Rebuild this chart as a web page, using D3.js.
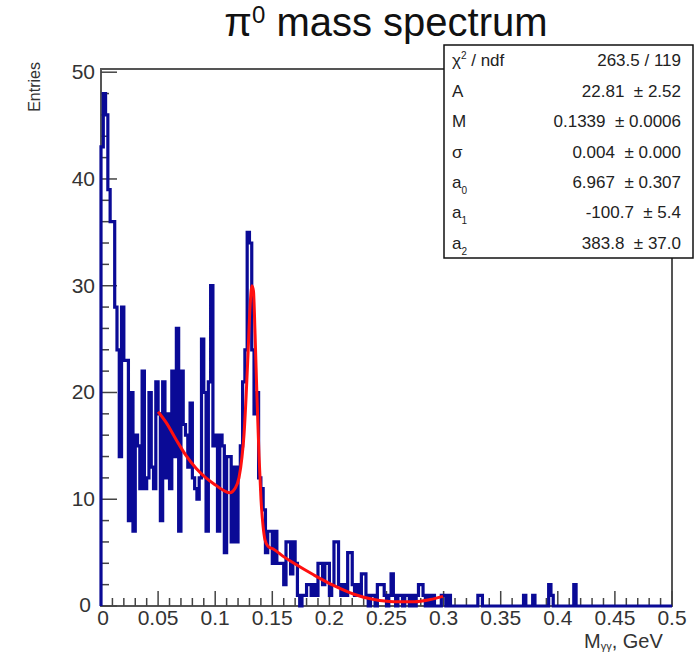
<!DOCTYPE html>
<html><head><meta charset="utf-8">
<script src="https://cdn.jsdelivr.net/npm/d3@7"></script>
<style>
html,body{margin:0;padding:0;background:#fff;}
svg{display:block;font-family:"Liberation Sans",Arial,Helvetica,sans-serif;}
</style></head>
<body>
<svg id="chart" width="696" height="654"></svg>
<script>
// ---------- data ----------
const binWidth = 0.002;
const binCounts = [
 43,48,46,39,36,36,28,24,14,28, 23,23,8,20,7,16,15,11,22,11,
 12,20,13,11,21,18,8,21,12,18, 11,22,14,26,7,22,17,16,13,19,
 12,11,10,12,25,20,7,21,30,15, 16,7,16,15,5,14,14,6,13,6,
 13,15,21,24,35,34,24,18,20,12, 11,9,5,7,7,4,7,4,4,4,
 2,6,6,3,6,4,1,0,1,1, 2,2,1,2,1,4,4,2,4,4,
 1,2,6,6,2,1,2,1,5,5, 2,1,2,1,3,3,1,0,1,1,
 0,2,2,2,1,0,1,3,1,0, 1,1,0,1,1,0,1,0,1,2,
 2,1,0,1,0,1,0,0,0,1, 1,0,1,0,0,0,0,0,0,0,
 0,0,0,0,0,1,1,0,0,0, 0,0,0,0,0,0,0,0,0,0,
 0,0,0,0,0,1,0,0,0,1, 0,0,0,0,0,0,2,1,0,0,
 0,0,0,0,0,0,0,2,0,0, 0,0,0,0,0,0,0,0,0,0,
 0,0,0,0,0,0,0,0,0,0, 0,0,0,0,0,0,0,0,0,0,
 0,0,0,0,0,0,0,0,0,0
];
// fit curve
const fitX = [0.050,0.057,0.0657,0.0744,0.0832,0.0919,0.1007,0.1077,0.113,0.1173,0.1208,0.1235,0.1252,0.127,0.1287,0.1305,0.1322,0.1335,0.1349,0.1366,0.1384,0.1401,0.1419,0.1436,0.1462,0.1515,0.1602,0.169,0.1865,0.204,0.2215,0.239,0.2566,0.2741,0.2881,0.2995];
const fitY = [18.2,17.2,15.6,14.1,12.9,12.0,11.3,10.8,10.6,11.0,12.0,14.0,16.0,19.5,23.5,28.0,30.0,29.5,25.5,19.5,14.0,10.0,7.5,6.2,5.6,5.3,4.6,4.0,2.9,1.9,1.1,0.6,0.4,0.4,0.6,0.9];
const xTickValues = [0,0.05,0.1,0.15,0.2,0.25,0.3,0.35,0.4,0.45,0.5];
const xTickLabels = ["0","0.05","0.1","0.15","0.2","0.25","0.3","0.35","0.4","0.45","0.5"];
const yTickValues = [0,10,20,30,40,50];
const yTickLabels = ["0","10","20","30","40","50"];
const statNames = ["χ2 / ndf","A","M","σ","a0","a1","a2"];
const statValues = ["263.5 / 119","22.81\u00a0\u00a0± 2.52","0.1339\u00a0\u00a0± 0.0006","0.004\u00a0\u00a0± 0.000","6.967\u00a0\u00a0± 0.307","-100.7\u00a0\u00a0± 5.4","383.8\u00a0\u00a0± 37.0"];

// ---------- layout ----------
const svg = d3.select("#chart");
const L = 101, R = 672, T = 69, B = 606;
const x = d3.scaleLinear().domain([0,0.5]).range([L,R]);
const y = d3.scaleLinear().domain([0,50.3]).range([B,T]);
const axisCol = "#444";

// frame
svg.append("rect").attr("x",L).attr("y",T).attr("width",R-L).attr("height",B-T)
  .attr("fill","none").attr("stroke","#555").attr("stroke-width",2);

// ticks (inward, ROOT style)
const g = svg.append("g");
const xMinor = d3.range(0,51).map(i=>i*0.01);
g.selectAll(".xt").data(xMinor).join("line")
  .attr("x1",d=>x(d)).attr("x2",d=>x(d)).attr("y1",B)
  .attr("y2",(d,i)=> i%5===0 ? B-15 : B-8)
  .attr("stroke",axisCol).attr("stroke-width",1.5);
const yMinor = d3.range(0,26).map(i=>i*2);
g.selectAll(".yt").data(yMinor).join("line")
  .attr("y1",d=>y(d)).attr("y2",d=>y(d)).attr("x1",L)
  .attr("x2",(d,i)=> i%5===0 ? L+16 : L+8)
  .attr("stroke",axisCol).attr("stroke-width",1.5);

// histogram (step outline)
const pts = [[0,0]];
binCounts.forEach((v,i)=>{ pts.push([i*binWidth,v]); pts.push([(i+1)*binWidth,v]); });
pts.push([binCounts.length*binWidth,0]);
svg.append("path").datum(pts)
  .attr("d", d3.line().x(d=>x(d[0])).y(d=>y(d[1])))
  .attr("fill","none").attr("stroke","#0a0a96").attr("stroke-width",3.2)
  .attr("stroke-linejoin","miter");

// fit curve
svg.append("path").datum(fitX.map((d,i)=>[d,fitY[i]]))
  .attr("d", d3.line().curve(d3.curveMonotoneX).x(d=>x(d[0])).y(d=>y(d[1])))
  .attr("fill","none").attr("stroke","#ff1010").attr("stroke-width",3);

// axis labels
svg.append("g").selectAll("text").data(xTickValues).join("text")
  .attr("x",d=>x(d)).attr("y",B+19).attr("text-anchor","middle")
  .attr("font-size",21).attr("fill","#333").text((d,i)=>xTickLabels[i])
  .attr("dx",(d,i)=> i===0 ? 2 : 0);
svg.append("g").selectAll("text").data(yTickValues).join("text")
  .attr("x",L-6).attr("y",d=>y(d)+7).attr("text-anchor","end")
  .attr("font-size",21).attr("fill","#333").text((d,i)=>yTickLabels[i])
  .attr("dx",(d,i)=> i===0 ? -4 : 0).attr("dy",(d,i)=> i===0 ? -1 : 0);

// axis titles
const xt = svg.append("text").attr("x",584).attr("y",648).attr("text-anchor","start")
  .attr("font-size",20).attr("fill","#333");
xt.append("tspan").text("M");
xt.append("tspan").attr("font-size",11).attr("dy",2).text("γγ");
xt.append("tspan").attr("dy",-2).text(", GeV");

svg.append("text").attr("transform","translate(40,62) rotate(-90)")
  .attr("text-anchor","end").attr("font-size",16).attr("fill","#333").text("Entries");

// title
const tt = svg.append("text").attr("x",386).attr("y",36).attr("text-anchor","middle")
  .attr("font-size",40).attr("fill","#111");
tt.append("tspan").text("π");
tt.append("tspan").attr("font-size",24).attr("dy",-13).text("0");
tt.append("tspan").attr("dy",13).text(" mass spectrum");

// stats box
const bx = 444, by = 45, bw = 249, bh = 213;
svg.append("rect").attr("x",bx).attr("y",by).attr("width",bw).attr("height",bh)
  .attr("fill","#fff").attr("stroke","#111").attr("stroke-width",1.5);
const rowH = bh/statNames.length;
statNames.forEach((n,i)=>{
  const yy = by + rowH*(i+0.5) + 6;
  const t = svg.append("text").attr("x",bx+8).attr("y",yy).attr("font-size",17).attr("fill","#222");
  if(n==="χ2 / ndf"){ t.append("tspan").text("χ"); t.append("tspan").attr("font-size",10).attr("dy",-7).text("2"); t.append("tspan").attr("dy",7).text(" / ndf"); }
  else if(/^a\d$/.test(n)){ t.append("tspan").text("a"); t.append("tspan").attr("font-size",10).attr("dy",6).text(n[1]); }
  else t.text(n);
  svg.append("text").attr("x",bx+bw-12).attr("y",yy).attr("text-anchor","end")
    .attr("font-size",17).attr("fill","#222").text(statValues[i]);
});
</script>
</body></html>
